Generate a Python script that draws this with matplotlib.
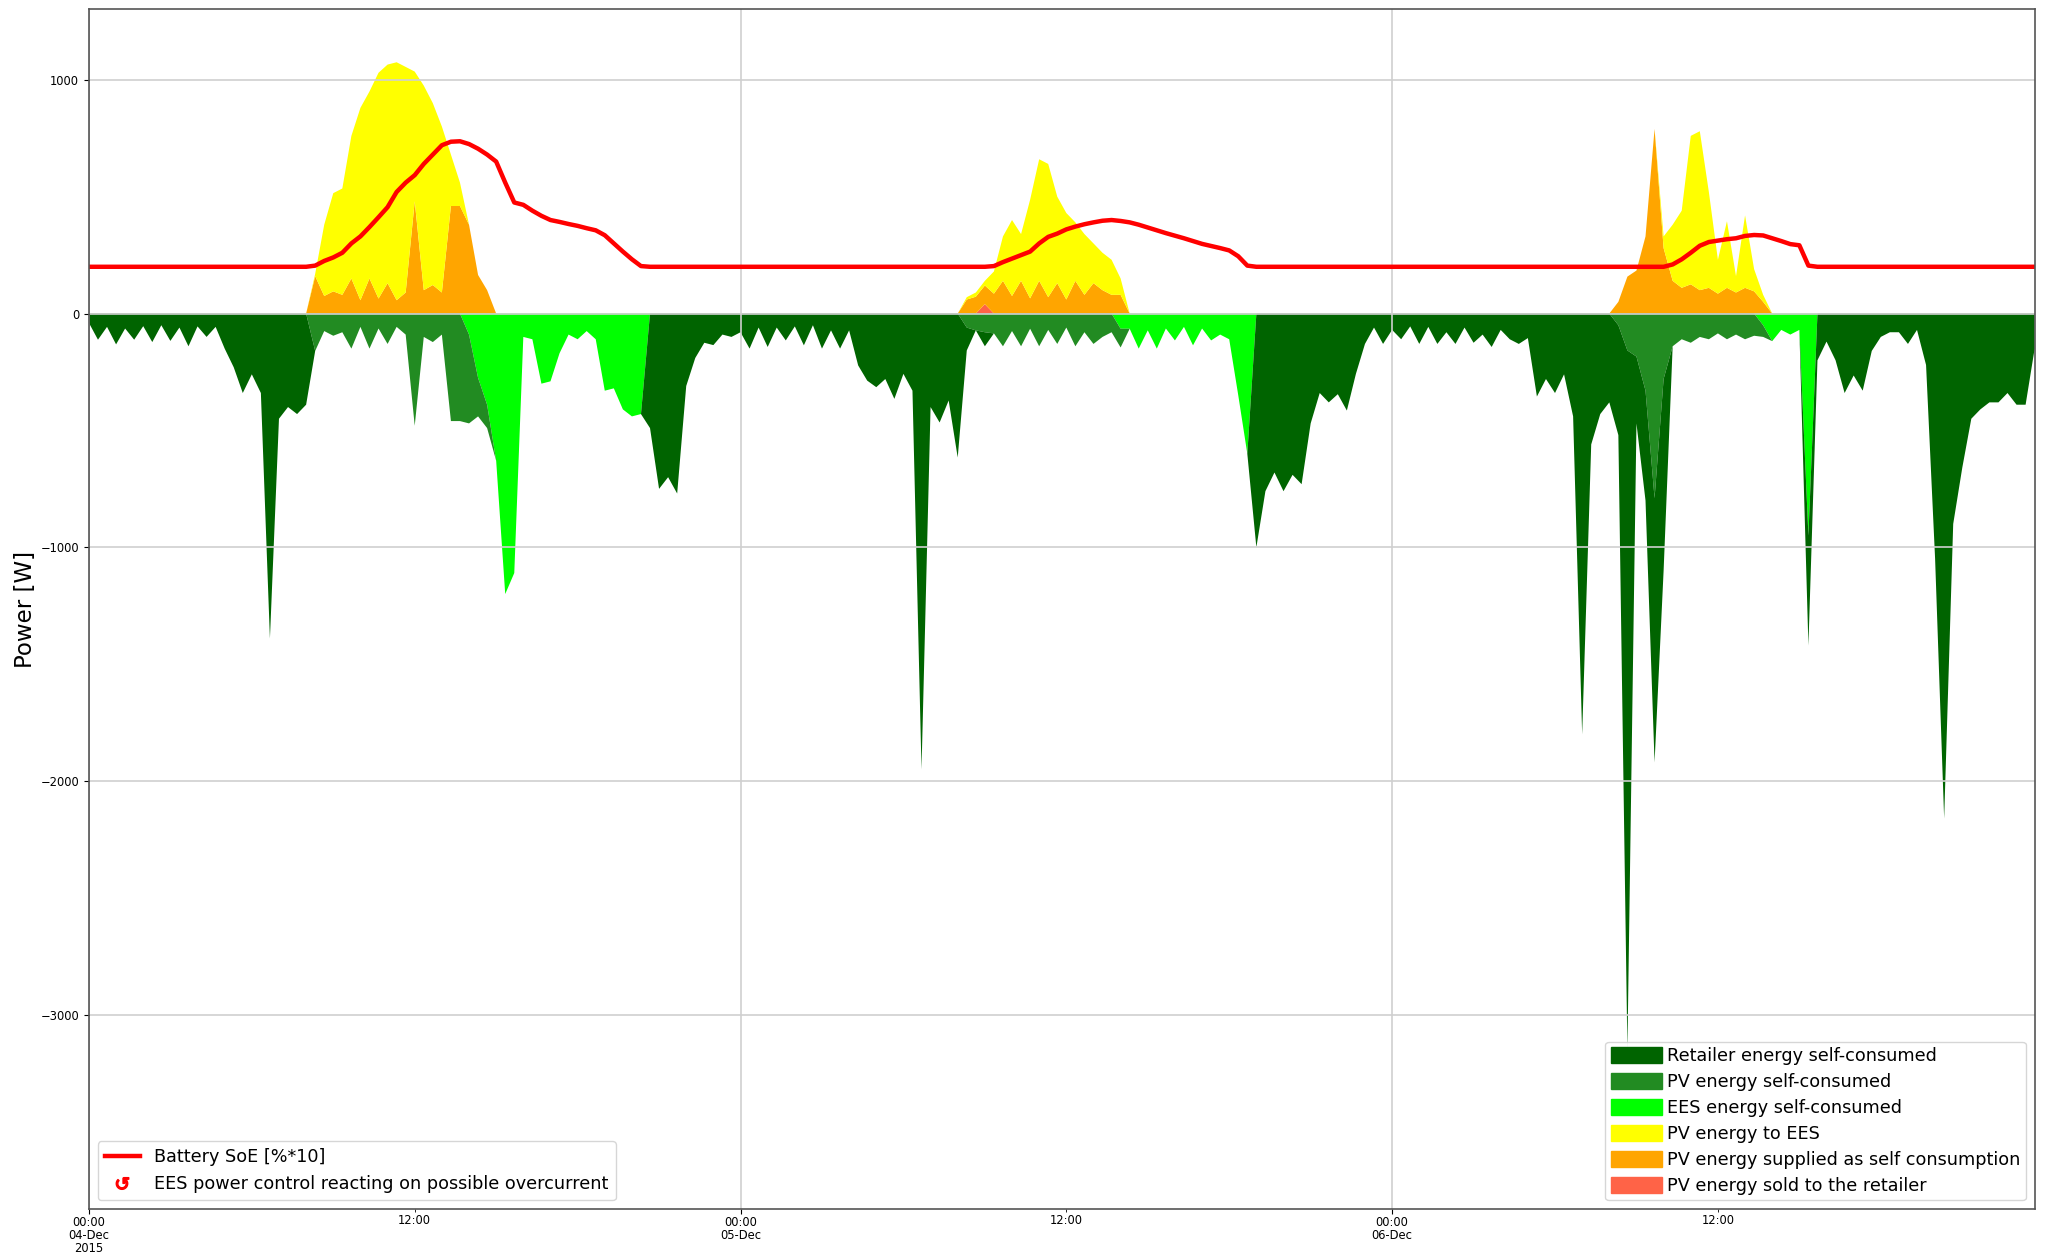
import numpy as np
import pandas as pd
import matplotlib
matplotlib.use("Agg")
import matplotlib.pyplot as plt
import matplotlib.dates as mdates
from matplotlib.patches import Patch
from matplotlib.lines import Line2D
from matplotlib.ticker import MultipleLocator, FuncFormatter

plt.rcParams["font.family"] = ["DejaVu Sans"]

# 20-minute samples, 4-6 Dec 2015
times = pd.date_range("2015-12-04 00:00", periods=216, freq="20min")

# Total household consumption [W]
load = [
    40, 112, 57, 132, 64, 112, 54, 122, 50, 117, 60, 140,
    55, 100, 57, 150, 230, 340, 260, 340, 1390, 450, 400, 430,
    390, 160, 75, 95, 80, 150, 57, 150, 64, 130, 57, 90,
    480, 100, 122, 90, 460, 460, 470, 440, 490, 630, 1200, 1110,
    100, 110, 300, 290, 170, 90, 110, 75, 110, 330, 320, 410,
    440, 430, 490, 750, 700, 770, 310, 190, 125, 135, 90, 100,
    80, 150, 60, 143, 60, 115, 55, 136, 50, 150, 72, 150,
    72, 222, 287, 315, 280, 365, 258, 330, 1950, 400, 466, 372,
    616, 158, 72, 140, 85, 140, 75, 140, 65, 140, 70, 130,
    60, 140, 80, 130, 100, 80, 145, 65, 150, 72, 150, 64,
    115, 57, 136, 64, 115, 90, 110, 350, 600, 1000, 760, 680,
    760, 690, 730, 470, 340, 380, 345, 415, 258, 130, 60, 130,
    70, 110, 55, 130, 57, 130, 80, 130, 60, 125, 90, 143,
    70, 110, 130, 105, 355, 280, 340, 260, 440, 1800, 560, 430,
    380, 520, 3150, 470, 800, 1920, 1100, 140, 110, 125, 100, 110,
    85, 110, 90, 110, 95, 100, 118, 70, 90, 70, 1420, 200,
    120, 200, 340, 265, 330, 160, 100, 80, 80, 130, 70, 220,
    1050, 2160, 900, 660, 450, 410, 380, 380, 340, 390, 390, 150,
]

# Total PV production [W]
pv_total = [
    0, 0, 0, 0, 0, 0, 0, 0, 0, 0, 0, 0,
    0, 0, 0, 0, 0, 0, 0, 0, 0, 0, 0, 0,
    0, 170, 380, 515, 535, 760, 880, 950, 1030, 1065, 1075, 1055,
    1035, 975, 900, 800, 680, 560, 380, 165, 100, 0, 0, 0,
    0, 0, 0, 0, 0, 0, 0, 0, 0, 0, 0, 0,
    0, 0, 0, 0, 0, 0, 0, 0, 0, 0, 0, 0,
    0, 0, 0, 0, 0, 0, 0, 0, 0, 0, 0, 0,
    0, 0, 0, 0, 0, 0, 0, 0, 0, 0, 0, 0,
    0, 70, 90, 140, 180, 330, 400, 340, 487, 660, 640, 500,
    430, 390, 340, 300, 260, 230, 150, 0, 0, 0, 0, 0,
    0, 0, 0, 0, 0, 0, 0, 0, 0, 0, 0, 0,
    0, 0, 0, 0, 0, 0, 0, 0, 0, 0, 0, 0,
    0, 0, 0, 0, 0, 0, 0, 0, 0, 0, 0, 0,
    0, 0, 0, 0, 0, 0, 0, 0, 0, 0, 0, 0,
    0, 50, 158, 184, 330, 790, 330, 380, 440, 760, 780, 520,
    230, 395, 160, 420, 190, 80, 0, 0, 0, 0, 0, 0,
    0, 0, 0, 0, 0, 0, 0, 0, 0, 0, 0, 0,
    0, 0, 0, 0, 0, 0, 0, 0, 0, 0, 0, 0,
]

# PV power used directly by the household [W]
pv_self = [
    0, 0, 0, 0, 0, 0, 0, 0, 0, 0, 0, 0,
    0, 0, 0, 0, 0, 0, 0, 0, 0, 0, 0, 0,
    0, 160, 75, 95, 80, 150, 57, 150, 64, 130, 57, 90,
    480, 100, 122, 90, 460, 460, 380, 165, 100, 0, 0, 0,
    0, 0, 0, 0, 0, 0, 0, 0, 0, 0, 0, 0,
    0, 0, 0, 0, 0, 0, 0, 0, 0, 0, 0, 0,
    0, 0, 0, 0, 0, 0, 0, 0, 0, 0, 0, 0,
    0, 0, 0, 0, 0, 0, 0, 0, 0, 0, 0, 0,
    0, 60, 72, 80, 85, 140, 75, 140, 65, 140, 70, 130,
    60, 140, 80, 130, 100, 80, 80, 0, 0, 0, 0, 0,
    0, 0, 0, 0, 0, 0, 0, 0, 0, 0, 0, 0,
    0, 0, 0, 0, 0, 0, 0, 0, 0, 0, 0, 0,
    0, 0, 0, 0, 0, 0, 0, 0, 0, 0, 0, 0,
    0, 0, 0, 0, 0, 0, 0, 0, 0, 0, 0, 0,
    0, 50, 158, 184, 330, 790, 280, 140, 110, 125, 100, 110,
    85, 110, 90, 110, 95, 50, 0, 0, 0, 0, 0, 0,
    0, 0, 0, 0, 0, 0, 0, 0, 0, 0, 0, 0,
    0, 0, 0, 0, 0, 0, 0, 0, 0, 0, 0, 0,
]

# PV power exported to the grid [W]
pv_sold = [0] * 216
pv_sold[99] = 40

# Battery discharge used by the household [W]
ees_out = [
    0, 0, 0, 0, 0, 0, 0, 0, 0, 0, 0, 0,
    0, 0, 0, 0, 0, 0, 0, 0, 0, 0, 0, 0,
    0, 0, 0, 0, 0, 0, 0, 0, 0, 0, 0, 0,
    0, 0, 0, 0, 0, 0, 90, 275, 390, 630, 1200, 1110,
    100, 110, 300, 290, 170, 90, 110, 75, 110, 330, 320, 410,
    440, 430, 0, 0, 0, 0, 0, 0, 0, 0, 0, 0,
    0, 0, 0, 0, 0, 0, 0, 0, 0, 0, 0, 0,
    0, 0, 0, 0, 0, 0, 0, 0, 0, 0, 0, 0,
    0, 0, 0, 0, 0, 0, 0, 0, 0, 0, 0, 0,
    0, 0, 0, 0, 0, 0, 65, 65, 150, 72, 150, 64,
    115, 57, 136, 64, 115, 90, 110, 350, 600, 0, 0, 0,
    0, 0, 0, 0, 0, 0, 0, 0, 0, 0, 0, 0,
    0, 0, 0, 0, 0, 0, 0, 0, 0, 0, 0, 0,
    0, 0, 0, 0, 0, 0, 0, 0, 0, 0, 0, 0,
    0, 0, 0, 0, 0, 0, 0, 0, 0, 0, 0, 0,
    0, 0, 0, 0, 0, 50, 118, 70, 90, 70, 950, 0,
    0, 0, 0, 0, 0, 0, 0, 0, 0, 0, 0, 0,
    0, 0, 0, 0, 0, 0, 0, 0, 0, 0, 0, 0,
]

# Battery state of energy [% * 10]
soe = [
    200, 200, 200, 200, 200, 200, 200, 200, 200, 200, 200, 200,
    200, 200, 200, 200, 200, 200, 200, 200, 200, 200, 200, 200,
    200, 205, 225, 240, 260, 300, 330, 370, 412, 455, 520, 560,
    592, 640, 680, 720, 735, 737, 725, 705, 680, 650, 560, 475,
    465, 440, 418, 400, 392, 383, 375, 365, 356, 335, 300, 265,
    232, 203, 200, 200, 200, 200, 200, 200, 200, 200, 200, 200,
    200, 200, 200, 200, 200, 200, 200, 200, 200, 200, 200, 200,
    200, 200, 200, 200, 200, 200, 200, 200, 200, 200, 200, 200,
    200, 200, 200, 200, 203, 220, 235, 250, 265, 300, 328, 342,
    360, 372, 382, 390, 397, 400, 396, 390, 380, 368, 356, 344,
    333, 322, 310, 298, 289, 280, 270, 245, 205, 200, 200, 200,
    200, 200, 200, 200, 200, 200, 200, 200, 200, 200, 200, 200,
    200, 200, 200, 200, 200, 200, 200, 200, 200, 200, 200, 200,
    200, 200, 200, 200, 200, 200, 200, 200, 200, 200, 200, 200,
    200, 200, 200, 200, 200, 200, 200, 210, 232, 260, 290, 306,
    312, 318, 322, 332, 336, 334, 322, 310, 297, 292, 205, 200,
    200, 200, 200, 200, 200, 200, 200, 200, 200, 200, 200, 200,
    200, 200, 200, 200, 200, 200, 200, 200, 200, 200, 200, 200,
]

colors_neg = ["lime", "forestgreen", "darkgreen"]
colors_pos = ["tomato", "orange", "yellow"]

load_a = np.array(load, float)
pv_total_a = np.array(pv_total, float)
pv_self_a = np.array(pv_self, float)
pv_sold_a = np.array(pv_sold, float)
ees_out_a = np.array(ees_out, float)
pv_to_ees = np.clip(pv_total_a - pv_self_a - pv_sold_a, 0, None)
retailer = np.clip(load_a - pv_self_a - ees_out_a, 0, None)

x = mdates.date2num(times.to_pydatetime())

fig = plt.figure(figsize=(20.49, 12.57), dpi=100)
ax = fig.add_axes([0.0434, 0.0383, 0.9496, 0.9544])

# PV production stacked upwards, household consumption stacked downwards
ax.stackplot(x, pv_sold_a, pv_self_a, pv_to_ees, colors=colors_pos, linewidth=0)
ax.stackplot(x, -ees_out_a, -pv_self_a, -retailer, colors=colors_neg, linewidth=0)
ax.plot(x, soe, color="red", lw=3.2)

ax.set_xlim(x[0], x[-1])
ax.set_ylim(-3830, 1302)
ax.yaxis.set_major_locator(MultipleLocator(1000))

ax.xaxis.set_major_locator(mdates.DayLocator())
ax.xaxis.set_minor_locator(mdates.HourLocator(byhour=[12]))


def major_fmt(val, pos):
    d = mdates.num2date(val)
    s = d.strftime("%H:%M\n%d-%b")
    if pos == 0:
        s += d.strftime("\n%Y")
    return s


ax.xaxis.set_major_formatter(FuncFormatter(major_fmt))
ax.xaxis.set_minor_formatter(mdates.DateFormatter("%H:%M"))
ax.tick_params(axis="both", which="both", labelsize=8.3)
ax.tick_params(axis="x", which="both", pad=2)

ax.grid(True, which="major", color="#cfcfcf", lw=1.2)
for s in ax.spines.values():
    s.set_color("#555555")
    s.set_linewidth(1.2)

ax.set_ylabel("Power [W]", fontsize=16.5)
ax.yaxis.set_label_coords(-0.0266, 0.5)

handles1 = [
    Patch(color="darkgreen", label="Retailer energy self-consumed"),
    Patch(color="forestgreen", label="PV energy self-consumed"),
    Patch(color="lime", label="EES energy self-consumed"),
    Patch(color="yellow", label="PV energy to EES"),
    Patch(color="orange", label="PV energy supplied as self consumption"),
    Patch(color="tomato", label="PV energy sold to the retailer"),
]
leg1 = ax.legend(handles=handles1, loc="lower right", fontsize=12.7,
                 handlelength=2.9, handleheight=1.0, labelspacing=0.45,
                 handletextpad=0.3, borderpad=0.3)
ax.add_artist(leg1)

handles2 = [
    Line2D([], [], color="red", lw=3.2, label="Battery SoE [%*10]"),
    Line2D([], [], ls="none", marker=r"$\circlearrowleft$", color="red",
           markersize=9, label="EES power control reacting on possible overcurrent"),
]
ax.legend(handles=handles2, loc="lower left", fontsize=12.7)

fig.canvas.draw()
for lab in ax.xaxis.get_majorticklabels():
    lab.set_linespacing(1.0)

fig.savefig("out.png", dpi=100)
